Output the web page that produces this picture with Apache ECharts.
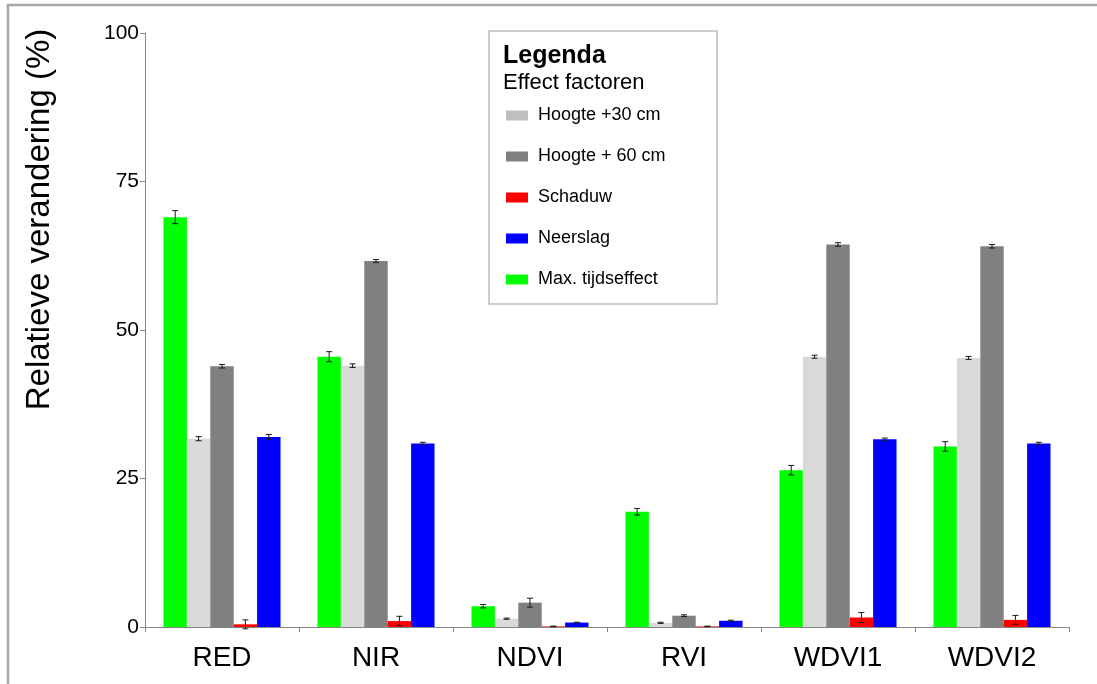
<!DOCTYPE html>
<html>
<head>
<meta charset="utf-8">
<script src="https://cdn.jsdelivr.net/npm/echarts@6/dist/echarts.min.js"></script>
<style>
html,body{margin:0;padding:0;background:#fff;}
#chart{width:1097px;height:684px;}
</style>
</head>
<body>
<div id="chart"></div>
<script>
// ---- data ----
var categories = ['RED', 'NIR', 'NDVI', 'RVI', 'WDVI1', 'WDVI2'];
var yTicks = [0, 25, 50, 75, 100];

var seriesNames = ['Max. tijdseffect', 'Hoogte +30 cm', 'Hoogte + 60 cm', 'Schaduw', 'Neerslag'];
var maxTijd     = [69.0, 45.5, 3.5, 19.4, 26.4, 30.4];
var hoogte30    = [31.7, 44.0, 1.4, 0.7, 45.5, 45.3];
var hoogte60    = [43.9, 61.6, 4.1, 1.9, 64.4, 64.1];
var schaduw     = [0.45, 1.0, 0.1, 0.1, 1.6, 1.2];
var neerslag    = [32.0, 30.9, 0.75, 1.05, 31.6, 30.9];

var errMaxTijd  = [1.1, 0.85, 0.28, 0.56, 0.8, 0.8];
var errHoogte30 = [0.35, 0.3, 0.1, 0.1, 0.25, 0.25];
var errHoogte60 = [0.3, 0.25, 0.75, 0.15, 0.3, 0.3];
var errSchaduw  = [0.75, 0.8, 0.05, 0.05, 0.85, 0.75];
var errNeerslag = [0.4, 0.2, 0.05, 0.1, 0.2, 0.2];

var legendOrder = ['Hoogte +30 cm', 'Hoogte + 60 cm', 'Schaduw', 'Neerslag', 'Max. tijdseffect'];
var legendTitle = 'Legenda';
var legendSubtitle = 'Effect factoren';
var yAxisTitle = 'Relatieve verandering (%)';

// ---- build ----
var values = [maxTijd, hoogte30, hoogte60, schaduw, neerslag];
var errors = [errMaxTijd, errHoogte30, errHoogte60, errSchaduw, errNeerslag];
var colors = ['#00ff00', '#d9d9d9', '#808080', '#ff0000', '#0000ff'];
var FONT = '"Liberation Sans", Arial, sans-serif';
var CAT_GAP = 0.24;
var NBARS = 5;

var errData = [];
for (var s = 0; s < values.length; s++) {
  for (var c = 0; c < categories.length; c++) {
    errData.push([c, s, values[s][c], errors[s][c]]);
  }
}

var series = values.map(function (arr, i) {
  return {
    name: seriesNames[i],
    type: 'bar',
    data: arr,
    barGap: '0%',
    barCategoryGap: (CAT_GAP * 100) + '%',
    itemStyle: { color: colors[i] },
    silent: true
  };
});

series.push({
  type: 'custom',
  name: 'err',
  silent: true,
  z: 10,
  data: errData,
  encode: { x: 0, y: 2 },
  renderItem: function (params, api) {
    var cat = api.value(0), si = api.value(1), v = api.value(2), e = api.value(3);
    var band = api.size([1, 0])[0];
    var bw = band * (1 - CAT_GAP) / NBARS;
    var c = api.coord([cat, v]);
    var x = c[0] + (si - (NBARS - 1) / 2) * bw;
    var top = api.coord([cat, v + e])[1];
    var bot = api.coord([cat, v - e])[1];
    var hw = 3;
    var st = { stroke: '#1a1a1a', lineWidth: 1 };
    return {
      type: 'group',
      children: [
        { type: 'line', shape: { x1: x, y1: top, x2: x, y2: bot }, style: st },
        { type: 'line', shape: { x1: x - hw, y1: top, x2: x + hw, y2: top }, style: st },
        { type: 'line', shape: { x1: x - hw, y1: bot, x2: x + hw, y2: bot }, style: st }
      ]
    };
  }
});

var legendData = legendOrder.map(function (n) {
  if (n === 'Hoogte +30 cm') return { name: n, itemStyle: { color: '#bfbfbf' } };
  return { name: n };
});

var option = {
  animation: false,
  backgroundColor: '#fff',
  textStyle: { fontFamily: FONT },
  grid: { left: 145, right: 28, top: 33, bottom: 57, containLabel: false },
  xAxis: {
    type: 'category',
    data: categories,
    axisLine: { lineStyle: { color: '#868686', width: 1 } },
    axisTick: { show: true, length: 5, lineStyle: { color: '#868686' } },
    axisLabel: { color: '#000', fontSize: 28, fontFamily: FONT, margin: 17 },
    splitLine: { show: false }
  },
  yAxis: {
    type: 'value',
    min: yTicks[0],
    max: yTicks[yTicks.length - 1],
    interval: yTicks[1] - yTicks[0],
    axisLine: { show: true, lineStyle: { color: '#868686', width: 1 } },
    axisTick: { show: true, length: 5, lineStyle: { color: '#868686' } },
    axisLabel: { color: '#000', fontSize: 21, fontFamily: FONT, margin: 6 },
    splitLine: { show: false }
  },
  legend: {
    orient: 'vertical',
    left: 506,
    top: 106.5,
    padding: 0,
    itemWidth: 22,
    itemHeight: 10,
    itemGap: 23,
    icon: 'rect',
    selectedMode: false,
    data: legendData,
    textStyle: { color: '#000', fontSize: 18, lineHeight: 18, fontFamily: FONT, padding: [0, 0, 0, 5] }
  },
  graphic: [
    { type: 'line', shape: { x1: 7, y1: 5, x2: 1097, y2: 5 }, style: { stroke: '#a6a6a6', lineWidth: 2.5 }, silent: true },
    { type: 'line', shape: { x1: 8, y1: 4, x2: 8, y2: 684 }, style: { stroke: '#a6a6a6', lineWidth: 2.5 }, silent: true },
    { type: 'rect', shape: { x: 489, y: 31, width: 228, height: 273 }, style: { fill: '#fff', stroke: '#bfbfbf', lineWidth: 1.5 }, z: 0, silent: true },
    { type: 'text', left: 503, top: 44, style: { text: legendTitle, font: 'bold 25px ' + FONT, fill: '#000' }, z: 100, silent: true },
    { type: 'text', left: 503, top: 72, style: { text: legendSubtitle, font: '22px ' + FONT, fill: '#000' }, z: 100, silent: true },
    { type: 'text', x: 40, y: 219.5, rotation: Math.PI / 2,
      style: { text: yAxisTitle, font: '33px ' + FONT, fill: '#000', textAlign: 'center', textVerticalAlign: 'middle' }, z: 100, silent: true }
  ],
  series: series
};

var chart = echarts.init(document.getElementById('chart'), null, { renderer: 'canvas' });
chart.setOption(option);
</script>
</body>
</html>
